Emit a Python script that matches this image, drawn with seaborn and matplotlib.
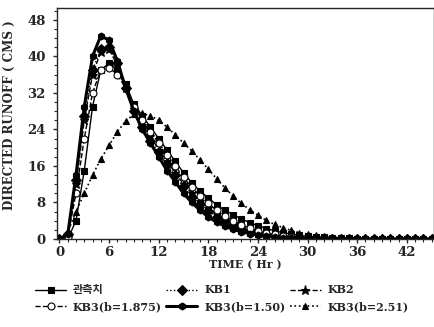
#!/usr/bin/env python3
"""Direct runoff hydrographs: observed vs. KB1 / KB2 / KB3 models."""

import matplotlib

matplotlib.use("Agg")
import matplotlib.pyplot as plt
import numpy as np
import pandas as pd
import seaborn as sns
from matplotlib.ticker import MultipleLocator

# hourly time steps (Hr)
TIME = np.arange(0, 46)

OBSERVED = [0, 0, 4, 15, 29, 37, 38.5, 37, 34, 29.5, 27, 24.5, 22, 19.5, 17,
            14.5, 12.3, 10.5, 9, 7.5, 6.3, 5.3, 4.4, 3.6, 2.9, 2.3, 1.8, 1.4,
            1.1, 0.8, 0.6, 0.5, 0.4, 0.3, 0.2, 0.2, 0.1, 0.1, 0.1, 0.1, 0, 0,
            0, 0, 0, 0]
KB1 = [0, 1, 13, 27, 37, 41.5, 42, 38.5, 33, 28, 24.5, 21.5, 19, 16.5, 14,
       11.5, 9.3, 7.6, 6.1, 4.9, 3.9, 3, 2.3, 1.7, 1.3, 0.9, 0.7, 0.5, 0.4,
       0.3, 0.2, 0.1, 0.1, 0.1, 0, 0, 0, 0, 0, 0, 0, 0, 0, 0, 0, 0]
KB2 = [0, 0.5, 12, 26, 36, 41, 41.5, 38, 33, 28.5, 25, 22.5, 19.5, 17, 14.5,
       12, 10, 8.3, 6.8, 5.4, 4.3, 3.3, 2.5, 1.9, 1.4, 1, 0.7, 0.5, 0.4, 0.3,
       0.2, 0.1, 0.1, 0.1, 0, 0, 0, 0, 0, 0, 0, 0, 0, 0, 0, 0]
KB3_1875 = [0, 0.5, 10, 22, 32, 37, 37.5, 36, 33, 29, 26, 23.5, 21, 18.5, 16,
            13.5, 11.3, 9.5, 7.8, 6.3, 5, 4, 3.1, 2.4, 1.8, 1.3, 1, 0.7, 0.5,
            0.4, 0.3, 0.2, 0.1, 0.1, 0.1, 0, 0, 0, 0, 0, 0, 0, 0, 0, 0, 0]
KB3_150 = [0, 1, 14, 29, 40, 44.5, 43.5, 39, 33, 28, 24, 21, 18, 15, 12.5,
           10, 8, 6.3, 4.8, 3.7, 2.8, 2.1, 1.6, 1.2, 0.9, 0.6, 0.4, 0.3, 0.2,
           0.1, 0.1, 0.1, 0, 0, 0, 0, 0, 0, 0, 0, 0, 0, 0, 0, 0, 0]
KB3_251 = [0, 1.5, 6, 10, 14, 17.5, 20.5, 23.5, 25.8, 27.3, 27.5, 27, 26,
           24.5, 22.8, 21, 19.3, 17.3, 15.3, 13.2, 11.2, 9.4, 7.8, 6.4, 5.2,
           4.1, 3.2, 2.5, 1.9, 1.4, 1.1, 0.8, 0.6, 0.4, 0.3, 0.2, 0.2, 0.1,
           0.1, 0.1, 0.1, 0, 0, 0, 0, 0]

SERIES = [
    # label, values, linestyle, linewidth, marker, facecolor
    ("관측치", OBSERVED, "-", 1.0, "s", "black"),
    ("KB1", KB1, ":", 1.0, "D", "black"),
    ("KB2", KB2, "--", 1.0, "*", "black"),
    ("KB3(b=1.875)", KB3_1875, "--", 1.0, "o", "white"),
    ("KB3(b=1.50)", KB3_150, "-", 2.2, "h", "black"),
    ("KB3(b=2.51)", KB3_251, ":", 1.2, "^", "black"),
]

FONTS = ["DejaVu Serif", "Noto Sans CJK KR"]

sns.set_style("ticks")
plt.rcParams["font.family"] = FONTS
plt.rcParams["font.weight"] = "bold"

fig = plt.figure(figsize=(4.35, 3.27), dpi=100)
ax = fig.add_axes([0.131, 0.269, 0.867, 0.707])

handles = {}
for label, values, style, width, marker, face in SERIES:
    frame = pd.DataFrame({"time": TIME, "flow": values})
    sns.lineplot(
        data=frame,
        x="time",
        y="flow",
        ax=ax,
        color="black",
        linestyle=style,
        linewidth=width,
        marker=marker,
        markersize=5 if marker != "*" else 6.5,
        markerfacecolor=face,
        markeredgecolor="black",
        markeredgewidth=0.8,
    )
    handles[label] = ax.lines[-1]

ax.set_xlim(-0.3, 45.3)
ax.set_ylim(0, 50.6)
ax.set_xticks(np.arange(0, 43, 6))
ax.set_yticks(np.arange(0, 49, 8))
ax.xaxis.set_minor_locator(MultipleLocator(1))
ax.yaxis.set_minor_locator(MultipleLocator(2))
ax.tick_params(which="major", direction="out", length=3, width=1,
               labelsize=9.5, pad=2)
ax.tick_params(axis="y", which="major", pad=5)
ax.tick_params(which="minor", direction="out", length=2, width=0.8)
for side in ax.spines.values():
    side.set_linewidth(1.0)

ax.set_xlabel("TIME ( Hr )", fontsize=8, fontweight="bold", labelpad=0)
ax.set_ylabel("DIRECTED RUNOFF ( CMS )", fontsize=8.6, fontweight="bold")
ax.yaxis.set_label_coords(-0.108, 0.535)

# legend rows read across: column-major ordering for ncol=3
order = ["관측치", "KB3(b=1.875)", "KB1", "KB3(b=1.50)", "KB2", "KB3(b=2.51)"]
fig.legend(
    [handles[name] for name in order],
    order,
    loc="center",
    bbox_to_anchor=(0.51, 0.088),
    ncol=3,
    frameon=False,
    handlelength=2.8,
    handletextpad=0.6,
    columnspacing=0.4,
    labelspacing=0.5,
    prop={"family": FONTS, "weight": "bold", "size": 8},
)

fig.savefig("out.png", dpi=100)
plt.close(fig)
